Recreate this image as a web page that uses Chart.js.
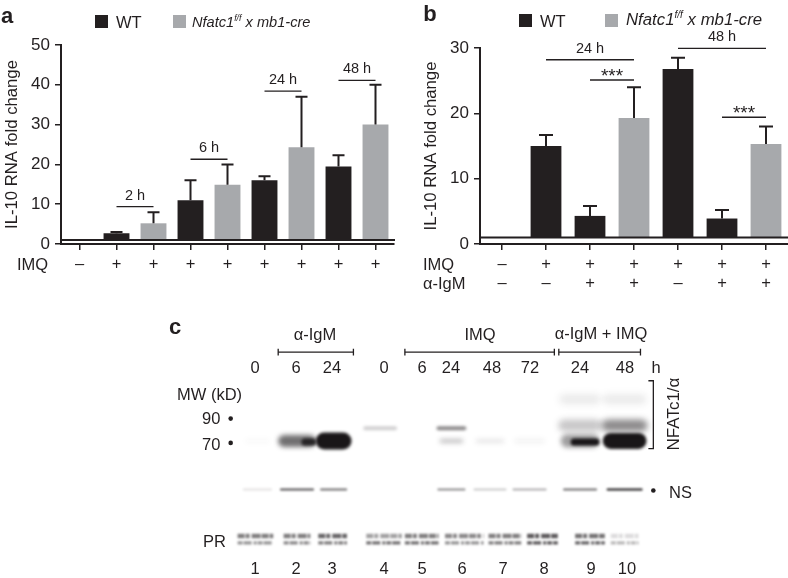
<!DOCTYPE html>
<html>
<head>
<meta charset="utf-8">
<script src="https://cdn.jsdelivr.net/npm/chart.js@4"></script>
<style>
    html, body { margin: 0; padding: 0; background: #fff; }
    body { position: relative; width: 788px; height: 578px; overflow: hidden; font-family: "Liberation Sans", sans-serif; color: #231f20; }
    canvas { position: absolute; }
    .t { position: absolute; white-space: nowrap; font-size: 16.5px; line-height: 18px; transform: translate(-50%, -50%); }
    .l { transform: translate(0, -50%); }
    .panel { font-weight: bold; font-size: 22px; }
    .box { position: absolute; width: 13px; height: 13px; }
    sup { font-size: 60%; line-height: 0; }
</style>
</head>
<body>
<canvas id="chartA" width="398" height="300" style="left:0;top:0"></canvas>
<canvas id="chartB" width="388" height="300" style="left:400px;top:0"></canvas>
<canvas id="chartC" width="788" height="278" style="left:0;top:300px"></canvas>

<!-- Panel a -->
<div class="t panel" style="left:7px;top:16px">a</div>
<div class="box" style="left:95px;top:15px;background:#231f20"></div>
<div class="t l" style="left:116px;top:22px;font-size:16.5px">WT</div>
<div class="box" style="left:173px;top:15px;background:#a7a9ac"></div>
<div class="t l" style="left:192px;top:22px;font-size:14.6px;font-style:italic">Nfatc1<sup>f/f</sup> x mb1-cre</div>
<div class="t l" style="left:17px;top:264px;font-size:16.5px">IMQ</div>

<!-- Panel b -->
<div class="t panel" style="left:430px;top:14px">b</div>
<div class="box" style="left:519px;top:14px;background:#231f20"></div>
<div class="t l" style="left:540px;top:21px;font-size:16.5px">WT</div>
<div class="box" style="left:605px;top:14px;background:#a7a9ac"></div>
<div class="t l" style="left:626px;top:20px;font-size:16.8px;font-style:italic">Nfatc1<sup>f/f</sup> x mb1-cre</div>
<div class="t l" style="left:423px;top:264px;font-size:16.5px">IMQ</div>
<div class="t l" style="left:423px;top:283px;font-size:16.5px">α-IgM</div>

<!-- Panel c -->
<div class="t panel" style="left:175px;top:327px">c</div>
<div class="t" style="left:315px;top:334px">α-IgM</div>
<div class="t" style="left:480px;top:334px">IMQ</div>
<div class="t" style="left:601px;top:333px">α-IgM + IMQ</div>
<div class="t l" style="left:177px;top:394px">MW (kD)</div>
<div class="t l" style="left:202px;top:418px">90</div>
<div class="t l" style="left:202px;top:444px">70</div>
<div class="t l" style="left:203px;top:541px">PR</div>
<div class="t l" style="left:669px;top:492px">NS</div>
<div class="t" style="left:674px;top:414px;font-size:17px;transform:translate(-50%,-50%) rotate(-90deg)">NFATc1/α</div>
<div id="labels"></div>

<script>
/* Daten Panel a */
const catA = ['–', '+', '+', '+', '+', '+', '+', '+', '+'];
const valA = [null, 2.7, 5.2, 11, 14.9, 16, 24.3, 19.5, 30];
const errA = [null, 3, 8, 16, 20, 17, 37, 22.3, 40];
const groupA = ['wt', 'wt', 'ko', 'wt', 'ko', 'wt', 'ko', 'wt', 'ko'];
const spanLabelA = ['2 h', '6 h', '24 h', '48 h'];
const spanFromA = [1, 3, 5, 7];
const spanToA = [2, 4, 6, 8];
const spanLevelA = [9.4, 21.3, 38.4, 41.1];

/* Daten Panel b */
const imqB = ['–', '+', '+', '+', '+', '+', '+'];
const igmB = ['–', '–', '+', '+', '–', '+', '+'];
const valB = [null, 15, 4.3, 19.3, 26.8, 3.9, 15.3];
const errB = [null, 16.7, 5.8, 24, 28.5, 5.2, 18];
const groupB = ['wt', 'wt', 'wt', 'ko', 'wt', 'wt', 'ko'];
const spanLabelB = ['24 h', '***', '48 h', '***'];
const spanFromB = [1, 2, 4, 5];
const spanToB = [3, 3, 6, 6];
const spanLevelB = [28.2, 25.1, 29.95, 19.4];

const baseLevel = 1;

/* Daten Panel c (Blot), x und y in Laufstrecke, Spuren 1-10 */
const laneNames = ['1', '2', '3', '4', '5', '6', '7', '8', '9', '10'];
const laneLabelX = [25.5, 29.6, 33.2, 38.4, 42.2, 46.2, 50.3, 54.4, 59.1, 62.7];
const timeLabels = ['0', '6', '24', '0', '6', '24', '48', '72', '24', '48'];
const timeLabelX = [25.5, 29.6, 33.2, 38.4, 42.2, 45.1, 49.2, 53, 58, 62.5];
const laneX = [25.6, 29.6, 33.3, 38, 42.2, 45.2, 49.1, 53.1, 58.2, 62.7];
const laneWidth = [2.7, 3.2, 2.5, 3, 3, 2.6, 3.1, 3.2, 3.2, 3.4];
const prX = [25.4, 29.6, 33.2, 38.4, 42.2, 46.5, 50.6, 54.4, 59.2, 62.7];
const prWidth = [3.6, 2.7, 2.9, 3.6, 3.4, 3.9, 3.3, 3.1, 3, 2.8];

const rowUpper = 39.8, rowSmear = 42.5, row90 = 42.8, row70 = 44.1, rowNS = 49.1, rowPRa = 53.9, rowPRb = 54.6;
const upperSmear = [0, 0, 0, 0, 0, 0, 0, 0, 0.09, 0.09];
const midSmear = [0, 0, 0, 0, 0, 0, 0, 0, 0.24, 0.5];
const band90 = [0, 0, 0, 0.2, 0, 0.5, 0, 0, 0, 0];
const band70 = [0.03, 0.62, 1, 0, 0, 0.28, 0.11, 0.05, 0.42, 1];
const band70Thick = [4, 12, 17, 0, 0, 4, 4, 5, 13, 16];
const bandNS = [0.1, 0.6, 0.5, 0, 0, 0.4, 0.18, 0.28, 0.5, 0.8];
const bandPRa = [0.55, 0.55, 0.65, 0.4, 0.55, 0.5, 0.55, 0.7, 0.6, 0.15];
const bandPRb = [0.45, 0.5, 0.55, 0.6, 0.6, 0.45, 0.55, 0.7, 0.65, 0.3];
const coreFrom = [30.4, 57.6];
const coreTo = [31.2, 59.8];
const coreLevel = [0.85, 1];

const blotBrackets = [[27.7, 35.3, 34.95], [40.5, 55.6, 34.95], [56.05, 64.3, 34.95]];
const sideBracket = [[65.1, 37.9], [65.6, 37.9], [65.6, 44.9], [65.1, 44.9]];
const markerDots = [[22.9, 41.8], [22.9, 44.3], [65.6, 49.2]];

const schwarz = '#231f20';
const grau = '#a7a9ac';

/* Fehlerbalken, Linie bei y=1 und Klammern ueber die Skalen zeichnen */
const overlayPlugin = {
    id: 'overlay',
    afterDatasetsDraw(chart, args, opts) {
        const {ctx, scales: {x, y}, chartArea} = chart;
        ctx.save();
        ctx.strokeStyle = schwarz;
        ctx.lineWidth = 2;
        ctx.beginPath();
        ctx.moveTo(chartArea.left, y.getPixelForValue(baseLevel));
        ctx.lineTo(chartArea.right + 1, y.getPixelForValue(baseLevel));
        ctx.stroke();

        opts.err.forEach((wert, i) => {
            if (wert === null) return;
            const px = x.getPixelForValue(i);
            ctx.beginPath();
            ctx.moveTo(px, y.getPixelForValue(opts.val[i]));
            ctx.lineTo(px, y.getPixelForValue(wert));
            ctx.moveTo(px - opts.cap, y.getPixelForValue(wert));
            ctx.lineTo(px + opts.cap, y.getPixelForValue(wert));
            ctx.stroke();
        });

        ctx.lineWidth = 1.3;
        ctx.fillStyle = schwarz;
        ctx.textAlign = 'center';
        opts.spanLabel.forEach((text, i) => {
            const x0 = x.getPixelForValue(opts.spanFrom[i]);
            const x1 = x.getPixelForValue(opts.spanTo[i]);
            const py = y.getPixelForValue(opts.spanLevel[i]);
            ctx.beginPath();
            ctx.moveTo(x0, py);
            ctx.lineTo(x1, py);
            ctx.stroke();
            const sterne = text === '***';
            ctx.font = sterne ? '19px "Liberation Sans"' : '14.5px "Liberation Sans"';
            ctx.fillText(text, (x0 + x1) / 2, sterne ? py + 2 : py - 7);
        });
        ctx.restore();
    }
};

function barChart(id, labels, werte, fehler, gruppen, maxY, breiteLinks, rechts, titelAbstand, spans, cap) {
    return new Chart(document.getElementById(id), {
        type: 'bar',
        data: {
            labels: labels,
            datasets: [{
                data: werte,
                base: baseLevel,
                backgroundColor: gruppen.map(g => g === 'wt' ? schwarz : grau),
                barPercentage: 0.7,
                categoryPercentage: 1
            }]
        },
        plugins: [overlayPlugin],
        options: {
            responsive: false,
            animation: false,
            layout: {padding: {top: id === 'chartA' ? 45 : 48, right: rechts, left: 0, bottom: 0}},
            plugins: {
                legend: {display: false},
                tooltip: {enabled: false},
                overlay: {err: fehler, val: werte, cap: cap,
                    spanLabel: spans[0], spanFrom: spans[1], spanTo: spans[2], spanLevel: spans[3]}
            },
            scales: {
                x: {
                    offset: true,
                    afterFit(scale) { scale.height = 56; },
                    grid: {display: true, offset: false, drawOnChartArea: false, color: schwarz, lineWidth: 1.5, tickLength: 6},
                    border: {color: schwarz, width: 2},
                    ticks: {color: schwarz, font: {family: 'Liberation Sans', size: 16.5, lineHeight: 1.16}, padding: 5, maxRotation: 0, autoSkip: false}
                },
                y: {
                    min: 0,
                    max: maxY,
                    afterFit(scale) { scale.width = breiteLinks; },
                    grid: {display: true, drawOnChartArea: false, color: schwarz, lineWidth: 1.5, tickLength: 6},
                    border: {color: schwarz, width: 2},
                    ticks: {color: schwarz, stepSize: 10, font: {family: 'Liberation Sans', size: 17}, padding: 5},
                    title: {display: true, text: 'IL-10 RNA fold change', color: schwarz,
                        font: {family: 'Liberation Sans', size: 16.7}, padding: {top: titelAbstand, bottom: 0}}
                }
            }
        }
    });
}

barChart('chartA', catA, valA, errA, groupA, 50, 61, 4, 2,
    [spanLabelA, spanFromA, spanToA, spanLevelA], 6);
barChart('chartB', imqB.map((v, i) => [v, igmB[i]]), valB, errB, groupB, 30, 80, 0, 21,
    [spanLabelB, spanFromB, spanToB, spanLevelB], 7);

/* Blot: jede Bande ist ein kurzer, weichgezeichneter Linien-Datensatz */
const blotSets = [];
function addBand(x0, x1, row, level, dicke, blur, dash) {
    if (!level) return;
    blotSets.push({
        type: 'line',
        data: [{x: x0, y: row}, {x: x1, y: row}],
        borderColor: 'rgba(25,22,24,' + level + ')',
        borderWidth: dicke,
        borderCapStyle: dash ? 'butt' : 'round',
        borderDash: dash || [],
        pointRadius: 0,
        blur: blur
    });
}
laneNames.forEach((name, i) => {
    const a = laneX[i] - laneWidth[i] / 2, b = laneX[i] + laneWidth[i] / 2;
    addBand(a, b, rowUpper, upperSmear[i], 10, 3.5);
    addBand(a, b, rowSmear, midSmear[i], 12, 3);
    addBand(a, b, row90, band90[i], 4, 1.6);
    addBand(a + 0.3, b - 0.3, row70, band70[i], band70Thick[i], band70[i] > 0.9 ? 1.6 : 2.4);
    addBand(a, b, rowNS, bandNS[i], 2.4, 1.2);
    const pa = prX[i] - prWidth[i] / 2, pb = prX[i] + prWidth[i] / 2;
    addBand(pa, pb, rowPRa, bandPRa[i], 4.5, 1.3, [7, 1, 4, 2, 9, 1]);
    addBand(pa, pb, rowPRb, bandPRb[i], 3.2, 1.2, [5, 1, 8, 2, 3, 1]);
});
coreFrom.forEach((von, i) => addBand(von, coreTo[i], row70 + 0.1, coreLevel[i], 7, 1.4));

/* Klammern und Punkte im Blot */
const strichSets = [];
blotBrackets.forEach(k => {
    strichSets.push({data: [{x: k[0], y: k[2]}, {x: k[1], y: k[2]}]});
    strichSets.push({data: [{x: k[0], y: k[2] - 0.35}, {x: k[0], y: k[2] + 0.35}]});
    strichSets.push({data: [{x: k[1], y: k[2] - 0.35}, {x: k[1], y: k[2] + 0.35}]});
});
strichSets.push({data: sideBracket.map(p => ({x: p[0], y: p[1]}))});
strichSets.forEach(s => {
    s.type = 'line';
    s.borderColor = schwarz;
    s.borderWidth = 1.3;
    s.pointRadius = 0;
});
const punktSet = {
    type: 'scatter',
    data: markerDots.map(p => ({x: p[0], y: p[1]})),
    backgroundColor: schwarz,
    pointRadius: 2.3,
    borderWidth: 0
};

const blurPlugin = {
    id: 'bandBlur',
    beforeDatasetDraw(chart, args) {
        const b = chart.data.datasets[args.index].blur;
        chart.ctx.save();
        if (b) chart.ctx.filter = 'blur(' + b + 'px)';
    },
    afterDatasetDraw(chart) { chart.ctx.restore(); }
};

new Chart(document.getElementById('chartC'), {
    data: {datasets: blotSets.concat(strichSets, [punktSet])},
    plugins: [blurPlugin],
    options: {
        responsive: false,
        animation: false,
        layout: {padding: 0},
        plugins: {legend: {display: false}, tooltip: {enabled: false}},
        scales: {
            x: {type: 'linear', min: 0, max: 78.8, display: false},
            y: {type: 'linear', min: 30, max: 57.8, reverse: true, display: false}
        }
    }
});

/* Zeit- und Spurbeschriftung */
const labelBox = document.getElementById('labels');
function addLabel(text, x, y) {
    const d = document.createElement('div');
    d.className = 't';
    d.textContent = text;
    d.style.left = x + 'px';
    d.style.top = y + 'px';
    labelBox.appendChild(d);
}
timeLabels.forEach((t, i) => addLabel(t, timeLabelX[i] * 10, 367));
addLabel('h', 656, 367);
laneNames.forEach((t, i) => addLabel(t, laneLabelX[i] * 10, 568));
</script>
</body>
</html>
